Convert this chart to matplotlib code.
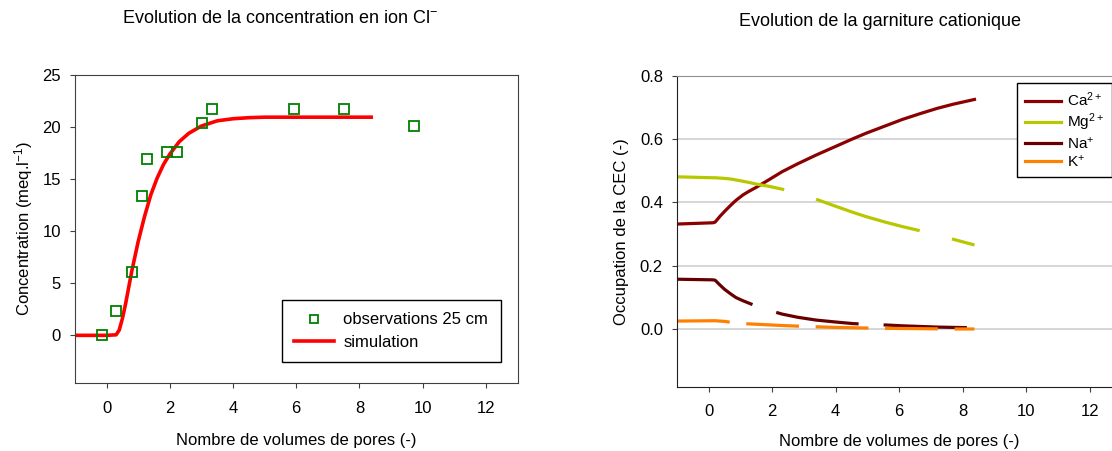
import matplotlib
matplotlib.use('Agg')
import matplotlib.pyplot as plt

plt.rcParams['font.family'] = ['Liberation Sans', 'DejaVu Sans']
plt.rcParams['mathtext.default'] = 'regular'
plt.rcParams['lines.scale_dashes'] = False

# --- left chart: chloride ---
obs_x = [-0.16, 0.31, 0.80, 1.13, 1.29, 1.91, 2.24, 3.03, 3.35, 5.92, 7.51, 9.74]
obs_y = [0.0, 2.3, 6.1, 13.4, 16.9, 17.6, 17.6, 20.4, 21.7, 21.7, 21.7, 20.1]

sim_x = [-1, 0.0, 0.3, 0.4, 0.5, 0.6, 0.7, 0.8, 0.9, 1.0, 1.2, 1.4, 1.6, 1.8,
         2.0, 2.3, 2.6, 3.0, 3.5, 4.0, 4.5, 5.0, 6.0, 7.0, 8.37]
sim_y = [0, 0, 0.05, 0.5, 1.6, 3.0, 4.6, 6.2, 7.6, 9.0, 11.4, 13.5, 15.1, 16.4,
         17.4, 18.6, 19.4, 20.1, 20.6, 20.8, 20.9, 20.95, 20.95, 20.95, 20.95]

# --- right chart: cation exchange ---
cec_x = [-1, 0.13, 0.2, 0.35, 0.5, 0.7, 0.86, 1.08, 1.28, 1.5, 1.9, 2.31, 2.8, 3.39,
         4.0, 4.54, 4.97, 5.6, 6.1, 6.65, 7.2, 7.7, 8.37]
ca = [0.332, 0.336, 0.338, 0.356, 0.372, 0.392, 0.407, 0.424, 0.436, 0.448, 0.472, 0.497,
      0.522, 0.550, 0.577, 0.601, 0.619, 0.643, 0.662, 0.680, 0.697, 0.710, 0.725]
mg = [0.481, 0.478, 0.478, 0.477, 0.476, 0.474, 0.471, 0.467, 0.463, 0.458, 0.451, 0.442,
      0.429, 0.410, 0.388, 0.369, 0.355, 0.337, 0.324, 0.311, 0.296, 0.284, 0.266]
na = [0.158, 0.156, 0.155, 0.140, 0.126, 0.111, 0.100, 0.090, 0.082, 0.073, 0.060, 0.048,
      0.038, 0.029, 0.023, 0.018, 0.016, 0.0135, 0.011, 0.009, 0.007, 0.006, 0.005]
k = [0.026, 0.027, 0.027, 0.026, 0.025, 0.022, 0.020, 0.018, 0.017, 0.016, 0.014, 0.012,
     0.010, 0.008, 0.006, 0.005, 0.004, 0.003, 0.0025, 0.002, 0.0015, 0.001, 0.001]

xticks = [0, 2, 4, 6, 8, 10, 12]

fig = plt.figure(figsize=(11.12, 4.51), dpi=100)

ax1 = fig.add_axes([0.0674, 0.1514, 0.398, 0.6823])
ax1.plot(obs_x, obs_y, 's', mfc='none', mec='#008000', mew=1.3, ms=7,
         label='observations 25 cm', zorder=3)
ax1.plot(sim_x, sim_y, color='#ff0000', lw=2.6, label='simulation')
ax1.set_xlim(-1, 13)
ax1.set_ylim(-4.55, 25)
ax1.set_xticks(xticks)
ax1.set_yticks([0, 5, 10, 15, 20, 25])
ax1.set_xlabel('Nombre de volumes de pores (-)', fontsize=12, labelpad=12)
ax1.set_ylabel('Concentration (meq.l$^{-1}$)', fontsize=12, labelpad=5)
for s in ax1.spines.values():
    s.set_color('#404040')
ax1.tick_params(direction='out', length=3.6, labelsize=12, color='#404040')
ax1.tick_params(axis='x', pad=9.5)
ax1.tick_params(axis='y', pad=6.5)
leg1 = ax1.legend(loc='upper left', bbox_to_anchor=(0.467, 0.269), fontsize=12,
                  frameon=True, fancybox=False, edgecolor='black', framealpha=1,
                  handlelength=2.4, handletextpad=0.55, borderpad=0.75,
                  labelspacing=0.45, borderaxespad=0, markerscale=0.8)
leg1.get_frame().set_linewidth(1.0)
fig.text(280 / 1112, 0.958, 'Evolution de la concentration en ion Cl$^{-}$',
         ha='center', va='center', fontsize=13)

ax2 = fig.add_axes([0.6088, 0.1426, 0.3997, 0.6896])
ax2.plot(cec_x, ca, color='#8b0000', lw=2.3, label='Ca$^{2+}$')
ax2.plot(cec_x, mg, color='#b8c800', lw=2.3, dashes=(78, 24), label='Mg$^{2+}$')
ax2.plot(cec_x, na, color='#660000', lw=2.3, dashes=(60, 18), label='Na$^{+}$')
ax2.plot(cec_x, k, color='#ff8000', lw=2.3, dashes=(38, 12), label='K$^{+}$')
ax2.set_xlim(-1, 13)
ax2.set_ylim(-0.181, 0.8)
ax2.set_xticks(xticks)
ax2.set_yticks([0.0, 0.2, 0.4, 0.6, 0.8])
ax2.set_yticklabels(['0.0', '0.2', '0.4', '0.6', '0.8'])
ax2.grid(axis='y', color='#d0d0d0', lw=1.2)
ax2.set_axisbelow(True)
ax2.spines['right'].set_visible(False)
ax2.spines['top'].set_color('#909090')
ax2.spines['left'].set_color('#202020')
ax2.spines['bottom'].set_color('#202020')
ax2.set_xlabel('Nombre de volumes de pores (-)', fontsize=12, labelpad=11)
ax2.set_ylabel('Occupation de la CEC (-)', fontsize=12, labelpad=8)
ax2.tick_params(direction='out', length=3.6, labelsize=12, color='#404040')
ax2.tick_params(axis='x', pad=9)
ax2.tick_params(axis='y', pad=6.5)
leg2 = ax2.legend(loc='upper left', bbox_to_anchor=(0.765, 0.977), fontsize=11,
                  frameon=True, fancybox=False, edgecolor='black', framealpha=1,
                  handlelength=2.4, borderpad=0.5, labelspacing=0.15,
                  handletextpad=0.4, borderaxespad=0)
leg2.get_frame().set_linewidth(1.0)
for line in leg2.get_lines():
    line.set_linestyle('-')
fig.text(880 / 1112, 0.952, 'Evolution de la garniture cationique',
         ha='center', va='center', fontsize=13)

fig.savefig('out.png', dpi=100)
